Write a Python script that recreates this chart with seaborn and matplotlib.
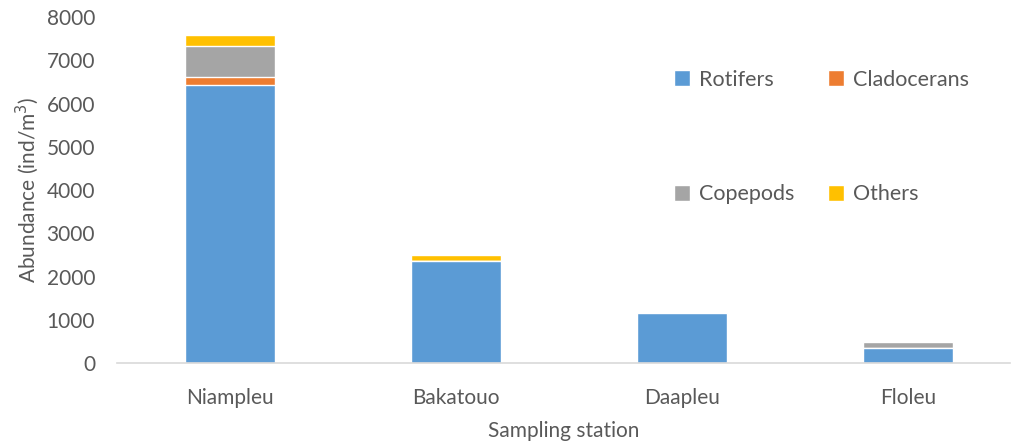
import pandas as pd
import numpy as np
import matplotlib
matplotlib.use("Agg")
import matplotlib.pyplot as plt
import seaborn as sns

stations = ["Niampleu", "Bakatouo", "Daapleu", "Floleu"]
rotifers = [6440, 2360, 1160, 355]
cladocerans = [180, 0, 0, 0]
copepods = [710, 0, 0, 130]
others = [250, 140, 0, 0]

groups = ["Rotifers", "Cladocerans", "Copepods", "Others"]
colors = ["#5b9bd5", "#ed7d31", "#a5a5a5", "#ffc000"]

df = pd.DataFrame({"station": stations, "Rotifers": rotifers,
                   "Cladocerans": cladocerans, "Copepods": copepods,
                   "Others": others})
cum = df[groups].cumsum(axis=1)

sns.set_style("white")
plt.rcParams["font.family"] = ["Lato", "DejaVu Sans"]
txt = "#595959"

fig = plt.figure(figsize=(10.11, 4.48), dpi=100)
ax = fig.add_axes([0.116, 0.189, 0.883, 0.773])

# stacked: draw the tallest cumulative layer first
for g, c in reversed(list(zip(groups, colors))):
    sns.barplot(x=df["station"], y=cum[g], color=c, width=0.4,
                saturation=1, ax=ax, label=g)

ax.set_ylim(0, 8000)
ax.set_xlim(-0.5, 3.45)
ax.set_yticks(range(0, 8001, 1000))
ax.tick_params(axis="both", length=0, labelsize=15, colors=txt)
ax.tick_params(axis="x", pad=18)
ax.tick_params(axis="y", pad=16)
for s in ["top", "right", "left"]:
    ax.spines[s].set_visible(False)
ax.spines["bottom"].set_color("#d9d9d9")
ax.spines["bottom"].set_linewidth(1.2)

ax.set_xlabel("Sampling station", fontsize=15, color=txt, labelpad=9)
ax.set_ylabel("Abundance (ind/m$^3$)", fontsize=15, color=txt, labelpad=4)

handles, labels = ax.get_legend_handles_labels()
hmap = dict(zip(labels, handles))
order = ["Rotifers", "Copepods", "Cladocerans", "Others"]
leg = ax.legend([hmap[o] for o in order], order, ncol=2, frameon=False,
                fontsize=15.5, labelcolor=txt, handlelength=0.75, handleheight=0.75,
                handletextpad=0.4, labelspacing=4.4, columnspacing=1.55,
                borderpad=0, borderaxespad=0,
                loc="upper left", bbox_to_anchor=(0.624, 0.848))

fig.savefig("out.png", dpi=100)
